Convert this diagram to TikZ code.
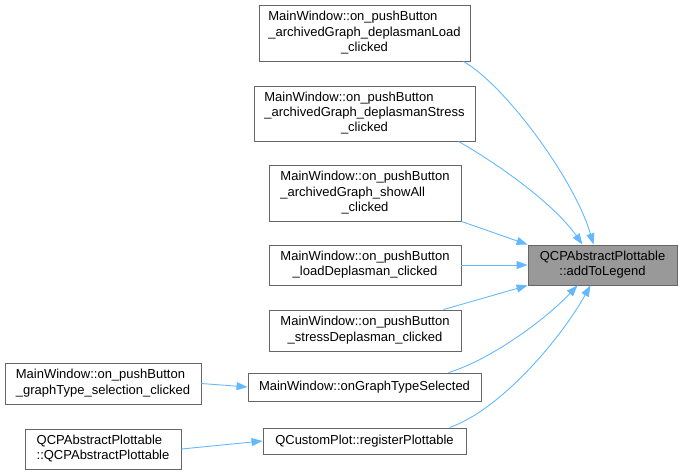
\documentclass[tikz,border=0pt]{standalone}
\usepackage{fontspec}
\setmainfont{Liberation Sans}
\usetikzlibrary{arrows.meta}
\definecolor{edgeblue}{HTML}{63B8FF}
\definecolor{boxborder}{HTML}{666666}
\definecolor{hlfill}{HTML}{999999}
\tikzset{
  box/.style={draw=boxborder, fill=white, line width=0.9pt, inner sep=0pt, anchor=center},
  hlbox/.style={box, fill=hlfill},
  edge/.style={draw=edgeblue, line width=0.9pt, -{Triangle[length=11pt,width=8pt]}}
}
\newcommand{\threel}[3]{\begin{tabular}{@{}l@{}}#1\\#2\\\multicolumn{1}{@{}c@{}}{#3}\end{tabular}}
\newcommand{\twol}[2]{\begin{tabular}{@{}l@{}}#1\\\multicolumn{1}{@{}c@{}}{#2}\end{tabular}}
\begin{document}
\begin{tikzpicture}[x=1pt,y=-1pt,font=\fontsize{13}{15.3}\selectfont]
\useasboundingbox (0,0) rectangle (683,475);
\renewcommand{\arraystretch}{1.0}
\node[box, minimum width=211pt, minimum height=56pt] (A) at (364.5,33)
  {\threel{MainWindow::on\_pushButton}{\_archivedGraph\_deplasmanLoad}{\_clicked}};
\node[box, minimum width=221pt, minimum height=55pt] (B) at (364.5,113.5)
  {\threel{MainWindow::on\_pushButton}{\_archivedGraph\_deplasmanStress}{\_clicked}};
\node[box, minimum width=192pt, minimum height=56pt] (C) at (365,193)
  {\threel{MainWindow::on\_pushButton}{\_archivedGraph\_showAll}{\_clicked}};
\node[box, minimum width=192pt, minimum height=40pt] (D) at (365,265)
  {\twol{MainWindow::on\_pushButton}{\_loadDeplasman\_clicked}};
\node[box, minimum width=192pt, minimum height=41pt] (E) at (365,330.5)
  {\twol{MainWindow::on\_pushButton}{\_stressDeplasman\_clicked}};
\node[box, minimum width=233pt, minimum height=28pt] (F) at (364.5,387)
  {MainWindow::onGraphTypeSelected};
\node[box, minimum width=203pt, minimum height=26pt] (G) at (364.5,441)
  {QCustomPlot::registerPlottable};
\node[box, minimum width=196pt, minimum height=41pt] (H) at (103,383.5)
  {\twol{MainWindow::on\_pushButton}{\_graphType\_selection\_clicked}};
\node[box, minimum width=156pt, minimum height=40pt] (I) at (103,449)
  {\twol{QCPAbstractPlottable}{::QCPAbstractPlottable}};
\node[hlbox, minimum width=149pt, minimum height=40pt] (T) at (602.5,265)
  {\twol{QCPAbstractPlottable}{::addToLegend}};

\draw[edge] ([xshift=-7pt]A.south east) .. controls (505,85) and (575,180) .. ([xshift=-84pt]T.north east);
\draw[edge] ([xshift=-17pt]B.south east) .. controls (500,165) and (555,205) .. ([xshift=-95pt]T.north east);
\draw[edge] (C.south east) -- (T.north west);
\draw[edge] (D.east) -- (T.west);
\draw[edge] ([xshift=-18pt]E.north east) -- (T.south west);
\draw[edge] ([xshift=-33pt]F.north east) .. controls (490,360) and (545,320) .. ([xshift=-100pt]T.south east);
\draw[edge] ([xshift=-17pt]G.north east) .. controls (500,410) and (560,340) .. ([xshift=-87pt]T.south east);
\draw[edge] (H.east) -- (F.west);
\draw[edge] (I.east) -- (G.west);
\end{tikzpicture}
\end{document}
